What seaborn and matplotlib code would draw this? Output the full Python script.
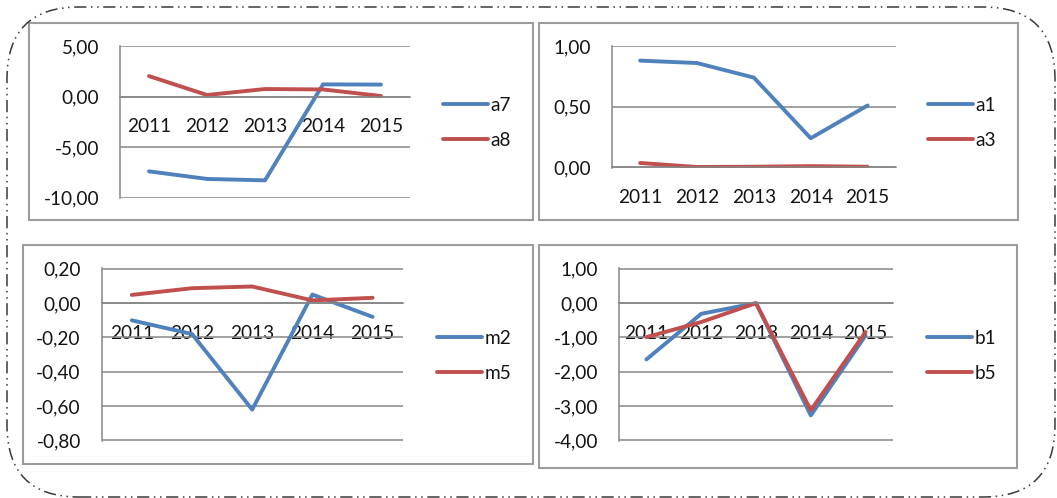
import matplotlib
matplotlib.use("Agg")
import matplotlib.pyplot as plt
from matplotlib.patches import Rectangle, FancyBboxPatch
from matplotlib.transforms import IdentityTransform
from matplotlib.ticker import FixedLocator
import pandas as pd
import seaborn as sns

# ---- data -------------------------------------------------------------
years = ["2011", "2012", "2013", "2014", "2015"]

a7 = [-7.38, -8.13, -8.27, 1.22, 1.20]
a8 = [2.04, 0.17, 0.76, 0.72, 0.07]

a1 = [0.88, 0.86, 0.74, 0.24, 0.51]
a3 = [0.036, 0.003, 0.005, 0.010, 0.005]

m2 = [-0.10, -0.18, -0.62, 0.05, -0.08]
m5 = [0.048, 0.087, 0.097, 0.016, 0.031]

b1 = [-1.64, -0.31, 0.00, -3.27, -0.94]
b5 = [-0.99, -0.55, 0.00, -3.12, -0.84]

ticks_a = [-10, -5, 0, 5]
ticks_b = [0.0, 0.5, 1.0]
ticks_m = [-0.8, -0.6, -0.4, -0.2, 0.0, 0.2]
ticks_bb = [-4, -3, -2, -1, 0, 1]

# ---- style ------------------------------------------------------------
sns.set_theme(style="white")
plt.rcParams["font.family"] = ["Lato", "DejaVu Sans"]

W, H = 1057, 498
BLUE, RED = "#4F81BD", "#C0504D"
GRID = "#868686"
FRAME = "#9C9C9C"
TEXT = "#141414"
FS = 13.7

fig = plt.figure(figsize=(W / 100, H / 100), dpi=100)
fig.patch.set_facecolor("white")


def px_rect(x0, y0, x1, y1):
    """Pixel box (top-left origin) -> figure fraction [l, b, w, h]."""
    return [x0 / W, 1 - y1 / H, (x1 - x0) / W, (y1 - y0) / H]


panels = [
    dict(series=(("a7", a7), ("a8", a8)), ticks=ticks_a,
         axes=(120, 45.7, 410, 198.3), frame=(29, 23, 533, 220),
         legend=(443, 123)),
    dict(series=(("a1", a1), ("a3", a3)), ticks=ticks_b,
         axes=(611.7, 45.7, 896, 167.7), frame=(539, 23, 1018, 220),
         legend=(928, 123)),
    dict(series=(("m2", m2), ("m5", m5)), ticks=ticks_m,
         axes=(101.7, 268.3, 402.7, 441), frame=(23, 245, 533, 464),
         legend=(437, 356)),
    dict(series=(("b1", b1), ("b5", b5)), ticks=ticks_bb,
         axes=(619, 268.3, 893, 441), frame=(539, 245, 1017, 468),
         legend=(927, 356)),
]

for p in panels:
    # chart frame
    fx0, fy0, fx1, fy1 = p["frame"]
    fig.add_artist(Rectangle((fx0 / W, 1 - fy1 / H), (fx1 - fx0) / W,
                             (fy1 - fy0) / H, transform=fig.transFigure,
                             fill=False, ec=FRAME, lw=1.5))

    ax = fig.add_axes(px_rect(*p["axes"]))
    ax.set_facecolor("none")

    rows = []
    for name, vals in p["series"]:
        for i, v in enumerate(vals):
            rows.append({"pos": i, "value": v, "series": name})
    df = pd.DataFrame(rows)
    sns.lineplot(data=df, x="pos", y="value", hue="series",
                 palette=[BLUE, RED], linewidth=2.8, ax=ax,
                 solid_capstyle="round", solid_joinstyle="round")

    t = p["ticks"]
    span = t[-1] - t[0]
    ax.set_ylim(t[0] - span * 0.003, t[-1] + span * 0.003)
    ax.set_xlim(-0.5, 4.5)

    ax.set_yticks(t)
    ax.set_yticklabels([f"{v:.2f}".replace(".", ",") for v in t])
    ax.yaxis.grid(True, color=GRID, lw=1.1)
    ax.tick_params(axis="y", length=5, width=1.1, color=GRID, pad=10,
                   labelsize=FS, labelcolor=TEXT)

    ax.set_xticks(range(len(years)))
    ax.set_xticklabels(years)
    ax.xaxis.set_minor_locator(FixedLocator([i - 0.5 for i in range(6)]))
    ax.tick_params(axis="x", which="major", length=0, pad=15.5,
                   labelsize=FS, labelcolor=TEXT)
    ax.tick_params(axis="x", which="minor", length=5, width=1.1,
                   color=GRID, direction="out")

    for s in ("top", "right"):
        ax.spines[s].set_visible(False)
    ax.spines["left"].set_color(GRID)
    ax.spines["left"].set_linewidth(1.1)
    ax.spines["bottom"].set_position(("data", 0))
    ax.spines["bottom"].set_color(GRID)
    ax.spines["bottom"].set_linewidth(1.1)
    ax.set_xlabel("")
    ax.set_ylabel("")

    handles, labels = ax.get_legend_handles_labels()
    lx, ly = p["legend"]
    ax.legend(handles, labels, loc="center left",
              bbox_to_anchor=(lx / W, 1 - ly / H),
              bbox_transform=fig.transFigure, frameon=False,
              fontsize=FS, handlelength=2.35, handletextpad=0.15,
              labelspacing=0.95, borderpad=0, borderaxespad=0,
              labelcolor=TEXT)

# rounded dash-dot outline around the whole group
outline = FancyBboxPatch((7, 1), 1048, 490,
                         boxstyle="round,pad=0,rounding_size=72",
                         transform=IdentityTransform(), fill=False,
                         ec="#3A3A3A", lw=1.1,
                         linestyle=(0, (8, 3, 1, 3, 1, 3)))
fig.add_artist(outline)

fig.savefig("out.png", dpi=100)
